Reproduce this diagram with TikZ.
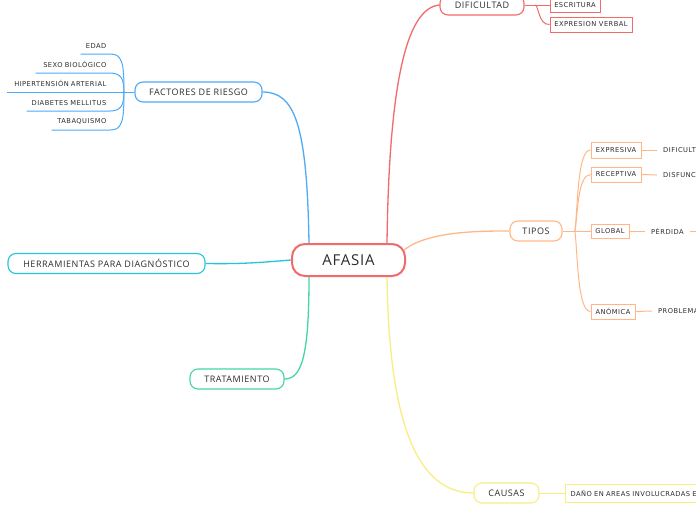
\documentclass[tikz,border=0pt]{standalone}
\usepackage{fontspec}
\setmainfont{Open Sans}
\newfontfamily\fsm[LetterSpace=7]{DejaVu Sans}
\newfontfamily\fmd[LetterSpace=6]{Open Sans}
\newfontfamily\fbg[LetterSpace=5]{Open Sans}
\definecolor{cred}{RGB}{242,106,106}
\definecolor{cblue}{RGB}{77,171,247}
\definecolor{ccyan}{RGB}{38,198,218}
\definecolor{cgreen}{RGB}{68,214,164}
\definecolor{cyellow}{RGB}{248,238,130}
\definecolor{corange}{RGB}{255,183,137}
\definecolor{txt}{RGB}{45,45,45}
\begin{document}
\begin{tikzpicture}[x=1pt,y=-1pt,
  root/.style={draw=cred, line width=2pt, rounded corners=13pt, minimum width=113pt,
    minimum height=32pt, inner sep=0pt, font=\fbg\fontsize{15}{17}\selectfont, text=txt, fill=white},
  branch/.style={draw, rounded corners=8pt, line width=1.1pt, minimum height=20pt, inner sep=0pt,
    font=\fmd\fontsize{9}{10}\selectfont, text=txt, fill=white},
  leafbox/.style={draw, line width=1pt, inner sep=0pt, font=\fsm\fontsize{6.7}{7.5}\selectfont, text=txt, fill=white},
  leaf/.style={inner xsep=6pt, inner ysep=0pt, font=\fsm\fontsize{6.7}{7.5}\selectfont, text=txt, anchor=west},
  under/.style={inner xsep=3.5pt, inner ysep=5.5pt, align=right, anchor=south east,
    font=\fsm\fontsize{6.7}{7.5}\selectfont, text=txt},
  mainline/.style={line width=1.3pt},
  subline/.style={line width=1pt}]
\useasboundingbox (0,0) rectangle (696,520);
\clip (0,0) rectangle (696,520);
\fill[white] (0,0) rectangle (696,520);

% main nodes
\node[root] (afasia) at (348.5,260) {AFASIA};
\node[branch, draw=cblue, minimum width=127pt] (fact) at (198.5,92) {FACTORES DE RIESGO};
\node[branch, draw=ccyan, minimum width=197pt] (herr) at (106.5,263.5) {HERRAMIENTAS PARA DIAGNÓSTICO};
\node[branch, draw=cgreen, minimum width=94pt] (trat) at (237,379) {TRATAMIENTO};
\node[branch, draw=cred, minimum width=84pt] (dif) at (482,5) {DIFICULTAD};
\node[branch, draw=corange, minimum width=52pt] (tipos) at (536,231) {TIPOS};
\node[branch, draw=cyellow, minimum width=65pt] (causas) at (506.5,493) {CAUSAS};

% main connectors
\draw[mainline, cblue] ([shift={(-39.5,0)}]afasia.north) .. controls (307,125) and (295,92) .. (fact.east);
\draw[mainline, cred] ([shift={(38.5,0)}]afasia.north) .. controls (389,90) and (405,8) .. (dif.west);
\draw[mainline, ccyan] (afasia.west) .. controls (255,263) and (240,264) .. (herr.east);
\draw[mainline, cgreen] ([shift={(-39.5,0)}]afasia.south) .. controls (309,355) and (302,379) .. (trat.east);
\draw[mainline, cyellow] ([shift={(38.5,0)}]afasia.south) .. controls (389,425) and (418,493) .. (causas.west);
\draw[mainline, corange] ([shift={(-2,-10)}]afasia.east) .. controls (428,231) and (480,231) .. (tipos.west);

% factores de riesgo
\node[under, text width=22pt] (edad) at (110,54) {EDAD};
\node[under, text width=67pt] (sexo) at (110,73) {SEXO BIOLÓGICO};
\node[under, text width=96pt] (hip) at (110,92) {HIPERTENSIÓN ARTERIAL};
\node[under, text width=76pt] (diab) at (110,111) {DIABETES MELLITUS};
\node[under, text width=51pt] (taba) at (110,130) {TABAQUISMO};
\coordinate (fj) at (124,92);
\draw[subline, cblue] (fact.west) -- (hip.south west);
\draw[subline, cblue] (fj) .. controls (124,62) and (122,54) .. (edad.south east) -- (edad.south west);
\draw[subline, cblue] (fj) .. controls (124,79) and (121,73) .. (sexo.south east) -- (sexo.south west);
\draw[subline, cblue] (fj) .. controls (124,105) and (121,111) .. (diab.south east) -- (diab.south west);
\draw[subline, cblue] (fj) .. controls (124,122) and (122,130) .. (taba.south east) -- (taba.south west);

% dificultad
\node[leafbox, draw=cred, minimum width=50pt, minimum height=14pt] (escr) at (575,5) {ESCRITURA};
\node[leafbox, draw=cred, minimum width=82pt, minimum height=15pt] (expv) at (591,24.5) {EXPRESION VERBAL};
\coordinate (dj) at (535,5);
\draw[subline, cred] (dif.east) -- (escr.west);
\draw[subline, cred] (dj) .. controls (539,5) and (538,25) .. (expv.west);

% tipos
\node[leafbox, draw=corange, minimum width=50pt, minimum height=16pt] (expr) at (616,150) {EXPRESIVA};
\node[leafbox, draw=corange, minimum width=50pt, minimum height=15pt] (recep) at (616,174.5) {RECEPTIVA};
\node[leafbox, draw=corange, minimum width=38pt, minimum height=14pt] (glob) at (610,231) {GLOBAL};
\node[leafbox, draw=corange, minimum width=44pt, minimum height=15pt] (anom) at (613,311.5) {ANÓMICA};
\coordinate (tj) at (575,231);
\draw[subline, corange] (tipos.east) -- (glob.west);
\draw[subline, corange] (tj) .. controls (578,200) and (578,150) .. (expr.west);
\draw[subline, corange] (tj) .. controls (578,210) and (578,175) .. (recep.west);
\draw[subline, corange] (tj) .. controls (578,262) and (578,311) .. (anom.west);

\node[leaf] (dificult) at (657,150) {DIFICULT};
\node[leaf] (disfunc) at (657,175) {DISFUNC};
\node[leaf] (perdida) at (645,231) {PÉRDIDA};
\node[leaf] (problema) at (652,311) {PROBLEMA};
\coordinate (pend) at (700,231);
\draw[subline, corange] (expr.east) -- (dificult.west);
\draw[subline, corange] (recep.east) -- (disfunc.west);
\draw[subline, corange] (glob.east) -- (perdida.west);
\draw[subline, corange] (perdida.east) -- (pend);
\draw[subline, corange] (anom.east) -- (problema.west);

% causas
\node[leafbox, draw=cyellow, anchor=west, minimum height=18pt, inner xsep=5pt, text width=190pt, align=left] (dano) at (565,493) {DAÑO EN AREAS INVOLUCRADAS E};
\draw[subline, cyellow] (causas.east) -- (dano.west);
\end{tikzpicture}
\end{document}
